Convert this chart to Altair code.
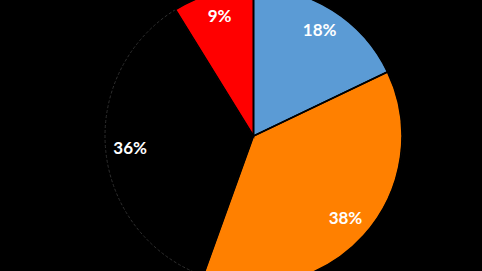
import altair as alt
import pandas as pd

categories = ["A", "B", "C", "D"]
shares = [17.9, 37.6, 35.7, 8.8]
labels = ["18%", "38%", "36%", "9%"]
colors = ["#5B9BD5", "#FF8000", "#000000", "#FF0000"]

df = pd.DataFrame({"cat": categories, "share": shares, "label": labels,
                   "idx": list(range(len(categories)))})

cx, cy, r = 253.5, 136, 148.5

theta = alt.Theta("share:Q", stack=True)
order = alt.Order("idx:O", sort="ascending")
color = alt.Color("cat:N", scale=alt.Scale(domain=categories, range=colors), legend=None)

base = alt.Chart(df).encode(theta=theta, order=order,
                            x=alt.value(cx), y=alt.value(cy))

# filled slices with a faint dashed outline (visible only on the black slice)
fills = base.mark_arc(outerRadius=r, stroke="#2e2e2e", strokeWidth=1,
                      strokeDash=[3, 2]).encode(color=color)

# black edges for the coloured slices, drawn on top
edges = base.mark_arc(outerRadius=r, strokeWidth=1.6, fillOpacity=0).encode(
    stroke=alt.condition(alt.datum.cat == "C", alt.value("transparent"), alt.value("#000000")),
)

text = base.mark_text(radius=124, font="Lato", fontWeight="bold", fontSize=17,
                      color="white").encode(text="label:N")

chart = alt.layer(fills, edges, text).properties(
    width=482, height=271, background="#000000", padding=0,
    autosize=alt.AutoSizeParams(type="none"),
).configure_view(stroke=None)

chart.save("out.html", embed_options={"renderer": "svg", "actions": False})
